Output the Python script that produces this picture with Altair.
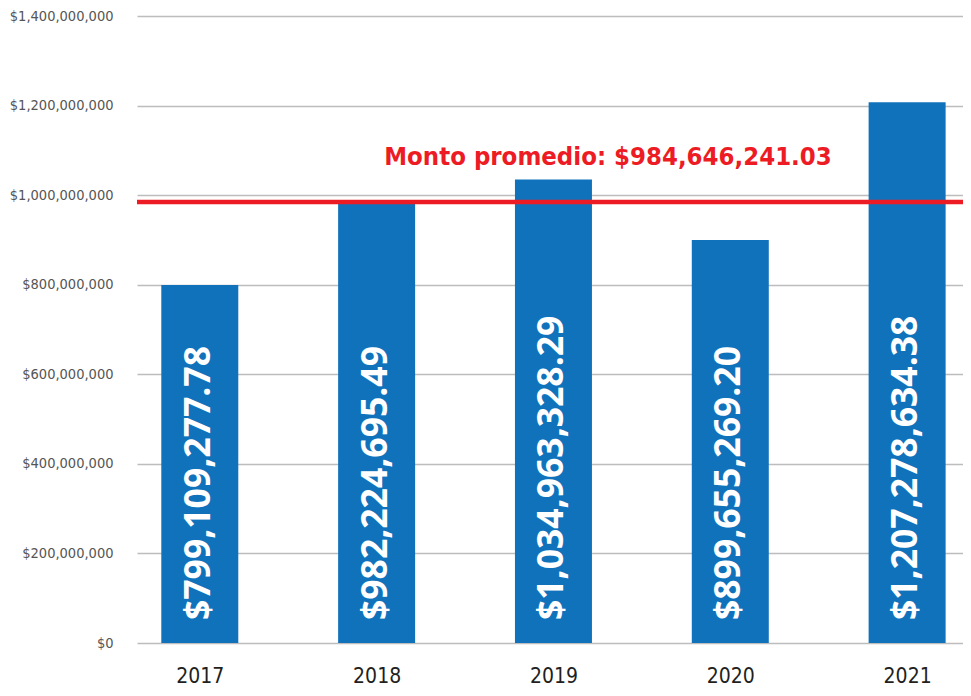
import altair as alt
import pandas as pd

years = [2017, 2018, 2019, 2020, 2021]
montos = [799109277.78, 982224695.49, 1034963328.29, 899655269.20, 1207278634.38]
promedio = 984646241.03
promedio_label = "Monto promedio: $984,646,241.03"
y_ticks = [0, 200000000, 400000000, 600000000, 800000000, 1000000000, 1200000000, 1400000000]

df = pd.DataFrame({"year": years, "monto": montos})
avg_df = pd.DataFrame({"avg": [promedio], "label": [promedio_label]})

W = 826
H = 627
step = 179.0
d0 = 2017 - 58.5 / step
d1 = d0 + W / step

BLUE = "#1172bc"
RED = "#ed1c24"
NARROW = "'DejaVu Sans Condensed', 'Liberation Sans Narrow', Roboto, sans-serif"

x_enc = alt.X(
    "year:Q",
    scale=alt.Scale(domain=[d0, d1], nice=False, zero=False),
    axis=alt.Axis(
        values=years, format="d", title=None, grid=False, ticks=False, domain=False,
        labelFont=NARROW, labelFontSize=21, labelColor="#231f20", labelPadding=22,
    ),
)
y_enc = alt.Y(
    "monto:Q",
    scale=alt.Scale(domain=[0, 1400000000], nice=False),
    axis=alt.Axis(
        values=y_ticks, format="$,.0f", title=None, ticks=False, domain=False,
        labelFont=NARROW, labelFontSize=14.5, labelColor="#555555", labelPadding=24,
        gridColor="#bdbdbd", gridWidth=1.6,
    ),
)

bars = alt.Chart(df).mark_bar(width=77, color=BLUE).encode(x=x_enc, y=y_enc)

bar_labels = alt.Chart(df).mark_text(
    angle=270, align="left", baseline="middle", color="white",
    font="'Open Sans', 'Liberation Sans', sans-serif", fontWeight="bold", fontSize=35.5, yOffset=-23, xOffset=-1,
).encode(
    x=alt.X("year:Q"),
    y=alt.datum(0),
    text=alt.Text("monto:Q", format="$,.2f"),
)

avg_rule = alt.Chart(avg_df).mark_rule(color=RED, strokeWidth=4.5).encode(
    y=alt.Y("avg:Q")
)

avg_text = alt.Chart(avg_df).mark_text(
    color=RED, font=NARROW, fontWeight="bold", fontSize=25.5,
    align="center", baseline="alphabetic", dy=-37,
).encode(
    x=alt.value(471),
    y=alt.Y("avg:Q"),
    text="label:N",
)

chart = (
    alt.layer(bars, bar_labels, avg_rule, avg_text)
    .properties(
        width=W, height=H,
        autosize=alt.AutoSizeParams(type="none"),
        padding={"left": 129, "top": 8, "right": 0, "bottom": 45},
    )
    .configure_view(stroke=None)
)

chart.save("out.html", embed_options={"renderer": "svg", "actions": False})
